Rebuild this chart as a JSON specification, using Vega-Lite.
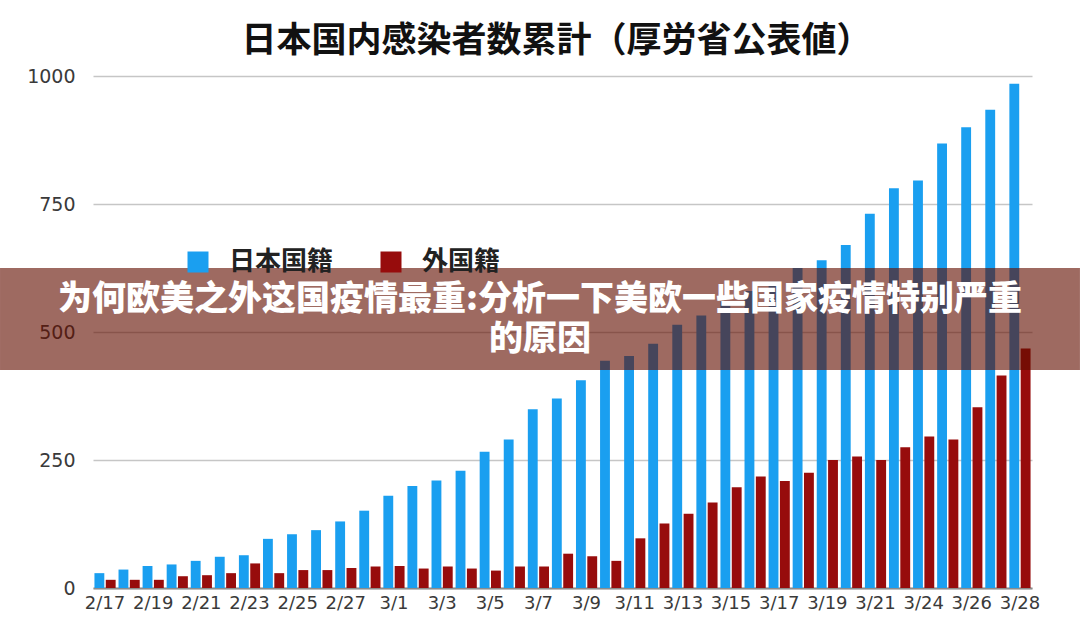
{
  "$schema": "https://vega.github.io/schema/vega-lite/v6.json",
  "width": 939,
  "height": 512,
  "autosize": {"type": "none"},
  "padding": {"left": 93, "top": 76, "right": 48, "bottom": 50},
  "background": "white",
  "title": {
    "text": "日本国内感染者数累計（厚労省公表値）",
    "font": "Noto Sans CJK JP",
    "fontSize": 35,
    "fontWeight": "bold",
    "color": "#111111",
    "anchor": "middle",
    "frame": "group",
    "offset": 8,
    "dx": -6
  },
  "config": {
    "view": {"stroke": null},
    "axis": {"labelFont": "DejaVu Sans", "labelColor": "#3a3a3a"}
  },
  "resolve": {"scale": {"x": "independent"}},
  "layer": [
    {
      "data": {
        "values": [
          {"date": "2/17", "group": "日本国籍", "count": 29}, {"date": "2/17", "group": "外国籍", "count": 16},
          {"date": "2/18", "group": "日本国籍", "count": 36}, {"date": "2/18", "group": "外国籍", "count": 16},
          {"date": "2/19", "group": "日本国籍", "count": 43}, {"date": "2/19", "group": "外国籍", "count": 16},
          {"date": "2/20", "group": "日本国籍", "count": 46}, {"date": "2/20", "group": "外国籍", "count": 23},
          {"date": "2/21", "group": "日本国籍", "count": 53}, {"date": "2/21", "group": "外国籍", "count": 25},
          {"date": "2/22", "group": "日本国籍", "count": 61}, {"date": "2/22", "group": "外国籍", "count": 29},
          {"date": "2/23", "group": "日本国籍", "count": 64}, {"date": "2/23", "group": "外国籍", "count": 48},
          {"date": "2/24", "group": "日本国籍", "count": 96}, {"date": "2/24", "group": "外国籍", "count": 29},
          {"date": "2/25", "group": "日本国籍", "count": 105}, {"date": "2/25", "group": "外国籍", "count": 35},
          {"date": "2/26", "group": "日本国籍", "count": 113}, {"date": "2/26", "group": "外国籍", "count": 35},
          {"date": "2/27", "group": "日本国籍", "count": 130}, {"date": "2/27", "group": "外国籍", "count": 39},
          {"date": "2/28", "group": "日本国籍", "count": 151}, {"date": "2/28", "group": "外国籍", "count": 42},
          {"date": "3/1", "group": "日本国籍", "count": 180}, {"date": "3/1", "group": "外国籍", "count": 43},
          {"date": "3/2", "group": "日本国籍", "count": 199}, {"date": "3/2", "group": "外国籍", "count": 38},
          {"date": "3/3", "group": "日本国籍", "count": 210}, {"date": "3/3", "group": "外国籍", "count": 42},
          {"date": "3/4", "group": "日本国籍", "count": 229}, {"date": "3/4", "group": "外国籍", "count": 38},
          {"date": "3/5", "group": "日本国籍", "count": 266}, {"date": "3/5", "group": "外国籍", "count": 34},
          {"date": "3/6", "group": "日本国籍", "count": 290}, {"date": "3/6", "group": "外国籍", "count": 42},
          {"date": "3/7", "group": "日本国籍", "count": 349}, {"date": "3/7", "group": "外国籍", "count": 42},
          {"date": "3/8", "group": "日本国籍", "count": 370}, {"date": "3/8", "group": "外国籍", "count": 67},
          {"date": "3/9", "group": "日本国籍", "count": 406}, {"date": "3/9", "group": "外国籍", "count": 62},
          {"date": "3/10", "group": "日本国籍", "count": 444}, {"date": "3/10", "group": "外国籍", "count": 53},
          {"date": "3/11", "group": "日本国籍", "count": 453}, {"date": "3/11", "group": "外国籍", "count": 97},
          {"date": "3/12", "group": "日本国籍", "count": 477}, {"date": "3/12", "group": "外国籍", "count": 126},
          {"date": "3/13", "group": "日本国籍", "count": 514}, {"date": "3/13", "group": "外国籍", "count": 145},
          {"date": "3/14", "group": "日本国籍", "count": 532}, {"date": "3/14", "group": "外国籍", "count": 167},
          {"date": "3/15", "group": "日本国籍", "count": 560}, {"date": "3/15", "group": "外国籍", "count": 197},
          {"date": "3/16", "group": "日本国籍", "count": 580}, {"date": "3/16", "group": "外国籍", "count": 218},
          {"date": "3/17", "group": "日本国籍", "count": 598}, {"date": "3/17", "group": "外国籍", "count": 209},
          {"date": "3/18", "group": "日本国籍", "count": 625}, {"date": "3/18", "group": "外国籍", "count": 225},
          {"date": "3/19", "group": "日本国籍", "count": 640}, {"date": "3/19", "group": "外国籍", "count": 250},
          {"date": "3/20", "group": "日本国籍", "count": 670}, {"date": "3/20", "group": "外国籍", "count": 257},
          {"date": "3/21", "group": "日本国籍", "count": 731}, {"date": "3/21", "group": "外国籍", "count": 250},
          {"date": "3/22", "group": "日本国籍", "count": 781}, {"date": "3/22", "group": "外国籍", "count": 275},
          {"date": "3/24", "group": "日本国籍", "count": 796}, {"date": "3/24", "group": "外国籍", "count": 296},
          {"date": "3/25", "group": "日本国籍", "count": 868}, {"date": "3/25", "group": "外国籍", "count": 290},
          {"date": "3/26", "group": "日本国籍", "count": 900}, {"date": "3/26", "group": "外国籍", "count": 353},
          {"date": "3/27", "group": "日本国籍", "count": 934}, {"date": "3/27", "group": "外国籍", "count": 415},
          {"date": "3/28", "group": "日本国籍", "count": 985}, {"date": "3/28", "group": "外国籍", "count": 468}
        ]
      },
      "mark": {"type": "bar"},
      "encoding": {
        "x": {
          "field": "date",
          "type": "nominal",
          "sort": null,
          "scale": {"paddingInner": 0.12, "paddingOuter": 0.06},
          "axis": {
            "title": null,
            "values": ["2/17", "2/19", "2/21", "2/23", "2/25", "2/27", "3/1", "3/3", "3/5", "3/7", "3/9", "3/11", "3/13", "3/15", "3/17", "3/19", "3/21", "3/24", "3/26", "3/28"],
            "labelAngle": 0,
            "labelFontSize": 18,
            "labelPadding": 6,
            "ticks": false,
            "grid": false,
            "domain": true,
            "domainColor": "#8c8c8c",
            "domainWidth": 2
          }
        },
        "xOffset": {
          "field": "group",
          "type": "nominal",
          "sort": ["日本国籍", "外国籍"],
          "scale": {"paddingInner": 0.13}
        },
        "y": {
          "field": "count",
          "type": "quantitative",
          "scale": {"domain": [0, 1000], "nice": false},
          "axis": {
            "title": null,
            "values": [0, 250, 500, 750, 1000],
            "format": "d",
            "labelFontSize": 19,
            "labelPadding": 18,
            "ticks": false,
            "domain": false,
            "grid": true,
            "gridColor": "#c6c6c6",
            "gridWidth": 1.5
          }
        },
        "color": {
          "field": "group",
          "type": "nominal",
          "sort": ["日本国籍", "外国籍"],
          "scale": {"domain": ["日本国籍", "外国籍"], "range": ["#1a9ff0", "#970c0c"]},
          "legend": {
            "title": null,
            "orient": "none",
            "legendX": 92,
            "legendY": 173,
            "direction": "horizontal",
            "symbolType": "square",
            "symbolSize": 441,
            "symbolStrokeWidth": 0,
            "labelFont": "Noto Sans CJK JP",
            "labelFontSize": 26,
            "labelFontWeight": "bold",
            "labelColor": "#222222",
            "labelOffset": 18,
            "columnPadding": 44
          }
        }
      }
    },
    {
      "data": {"values": [{}]},
      "mark": {"type": "rect", "fill": "#620f00", "opacity": 0.62},
      "encoding": {
        "x": {"datum": 0, "type": "quantitative", "scale": {"domain": [0.0861, 0.9556], "nice": false, "zero": false}, "axis": null},
        "x2": {"datum": 1},
        "y": {"datum": 625, "type": "quantitative"},
        "y2": {"datum": 426}
      }
    },
    {
      "data": {"values": [{"caption": "为何欧美之外这国疫情最重:分析一下美欧一些国家疫情特别严重\n的原因"}]},
      "mark": {
        "type": "text",
        "font": "Noto Sans CJK SC",
        "fontSize": 34,
        "fontWeight": 900,
        "color": "#ffffff",
        "align": "center",
        "baseline": "middle",
        "lineBreak": "\n",
        "lineHeight": 40
      },
      "encoding": {
        "x": {"datum": 0.5, "type": "quantitative", "scale": {"domain": [0.0861, 0.9556], "nice": false, "zero": false}, "axis": null},
        "y": {"datum": 562, "type": "quantitative"},
        "text": {"field": "caption", "type": "nominal"}
      }
    }
  ]
}
